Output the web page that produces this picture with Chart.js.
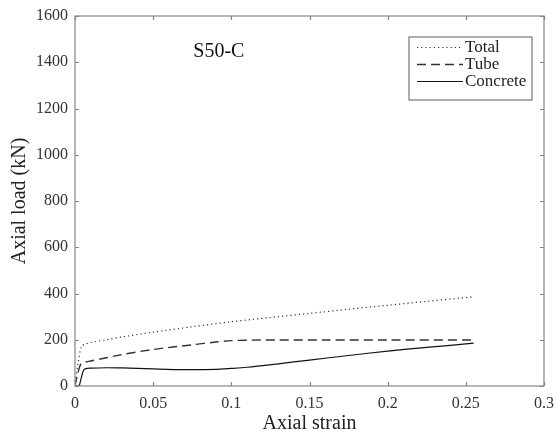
<!DOCTYPE html>
<html>
<head>
<meta charset="utf-8">
<script src="https://cdn.jsdelivr.net/npm/chart.js@4.4.1/dist/chart.umd.min.js"></script>
<style>
  html, body { margin: 0; padding: 0; background: #fff; }
  #wrap { width: 557px; height: 441px; }
</style>
</head>
<body>
<div id="wrap"><canvas id="loadChart" width="557" height="441"></canvas></div>
<script>
// dados (deformação axial x carga axial em kN)
const totalStrain = [0, 0.002, 0.004, 0.006, 0.01, 0.02, 0.03, 0.05, 0.075, 0.1, 0.125, 0.15, 0.175, 0.2, 0.225, 0.255];
const totalLoad   = [0, 100, 170, 180, 188, 200, 212, 233, 256, 278, 296, 314, 332, 349, 366, 386];

const tubeStrain = [0, 0.002, 0.004, 0.007, 0.01, 0.02, 0.03, 0.05, 0.075, 0.09, 0.1, 0.11, 0.13, 0.16, 0.2, 0.255];
const tubeLoad   = [0, 60, 98, 104, 108, 122, 136, 158, 178, 190, 196, 198, 199, 199, 199, 199];

const concreteStrain = [0, 0.0025, 0.004, 0.0055, 0.007, 0.01, 0.02, 0.03, 0.05, 0.07, 0.09, 0.1, 0.11, 0.13, 0.15, 0.175, 0.2, 0.225, 0.255];
const concreteLoad   = [0, 0, 35, 68, 75, 77, 79, 78, 74, 71, 72, 76, 81, 96, 112, 132, 151, 167, 185];

const seriesNames = ["Total", "Tube", "Concrete"];
const xTicks = [0, 0.05, 0.1, 0.15, 0.2, 0.25, 0.3];
const yTicks = [0, 200, 400, 600, 800, 1000, 1200, 1400, 1600];
const panelLabel = "S50-C";

const serif = "'Liberation Serif', 'Times New Roman', serif";
const axisGray = "#858585";

// junta x e y em pontos
function toPoints(xs, ys) {
    return xs.map((x, i) => ({ x: x, y: ys[i] }));
}

// ____________________________________________________________________________

// plugin: caixa em volta, ticks para dentro, legenda e rótulo do painel
const boxPlugin = {
    id: "boxPlugin",
    afterDraw(chart) {
        const ctx = chart.ctx;
        const a = chart.chartArea;
        const sx = chart.scales.x;
        const sy = chart.scales.y;

        ctx.save();
        ctx.strokeStyle = axisGray;
        ctx.lineWidth = 1.2;
        ctx.setLineDash([]);
        ctx.strokeRect(a.left, a.top, a.right - a.left, a.bottom - a.top);

        // ticks internos
        const len = 4;
        ctx.beginPath();
        xTicks.forEach(v => {
            const px = Math.round(sx.getPixelForValue(v)) + 0.5;
            ctx.moveTo(px, a.bottom); ctx.lineTo(px, a.bottom - len);
            ctx.moveTo(px, a.top); ctx.lineTo(px, a.top + len);
        });
        yTicks.forEach(v => {
            const py = Math.round(sy.getPixelForValue(v)) + 0.5;
            ctx.moveTo(a.left, py); ctx.lineTo(a.left + len, py);
            ctx.moveTo(a.right, py); ctx.lineTo(a.right - len, py);
        });
        ctx.stroke();

        // rótulo do painel
        ctx.fillStyle = "#111";
        ctx.font = "20px " + serif;
        ctx.textAlign = "center";
        ctx.textBaseline = "middle";
        ctx.fillText(panelLabel, sx.getPixelForValue(0.092), sy.getPixelForValue(1444));

        // legenda
        const lx = 409, ly = 37, lw = 123, lh = 63;
        ctx.fillStyle = "#fff";
        ctx.fillRect(lx, ly, lw, lh);
        ctx.strokeStyle = "#777";
        ctx.lineWidth = 1.2;
        ctx.strokeRect(lx, ly, lw, lh);
        ctx.font = "17px " + serif;
        ctx.textAlign = "left";
        chart.data.datasets.forEach((ds, i) => {
            const y = ly + 10 + i * 17;
            ctx.strokeStyle = ds.borderColor;
            ctx.lineWidth = ds.borderWidth;
            ctx.setLineDash(ds.borderDash || []);
            ctx.beginPath();
            ctx.moveTo(lx + 8, y + 0.5);
            ctx.lineTo(lx + 54, y + 0.5);
            ctx.stroke();
            ctx.fillStyle = "#222";
            ctx.fillText(ds.label, lx + 56, y + 1);
        });
        ctx.restore();
    }
};

// ____________________________________________________________________________

const loadChart = new Chart(document.getElementById("loadChart").getContext("2d"), {
    type: "scatter",
    data: {
        datasets: [
            {
                label: seriesNames[0],
                data: toPoints(totalStrain, totalLoad),
                borderColor: "#333",
                borderWidth: 1.2,
                borderDash: [1.2, 3],
            },
            {
                label: seriesNames[1],
                data: toPoints(tubeStrain, tubeLoad),
                borderColor: "#333",
                borderWidth: 1.4,
                borderDash: [9, 5],
            },
            {
                label: seriesNames[2],
                data: toPoints(concreteStrain, concreteLoad),
                borderColor: "#111",
                borderWidth: 1.2,
            },
        ].map(ds => Object.assign(ds, { showLine: true, pointRadius: 0, fill: false, tension: 0.3 })),
    },
    options: {
        responsive: false,
        animation: false,
        layout: { padding: { top: 16, right: 13, left: 0, bottom: 0 } },
        plugins: {
            legend: { display: false },
            tooltip: { enabled: false },
        },
        scales: {
            x: {
                type: "linear",
                min: 0,
                max: 0.3,
                afterBuildTicks: s => { s.ticks = xTicks.map(v => ({ value: v })); },
                afterFit: s => { s.height = 55; s.paddingLeft = 0; s.paddingRight = 0; },
                grid: { display: false, drawTicks: false },
                border: { display: false },
                ticks: {
                    padding: 8,
                    color: "#333",
                    font: { family: serif, size: 16 },
                    callback: v => String(+v.toFixed(2)),
                },
                title: {
                    display: true,
                    text: "Axial strain",
                    color: "#222",
                    font: { family: serif, size: 20 },
                    padding: { top: 0, bottom: 5 },
                },
            },
            y: {
                min: 0,
                max: 1600,
                afterBuildTicks: s => { s.ticks = yTicks.map(v => ({ value: v })); },
                afterFit: s => { s.width = 75; s.paddingTop = 0; s.paddingBottom = 0; },
                grid: { display: false, drawTicks: false },
                border: { display: false },
                ticks: {
                    padding: 7,
                    color: "#333",
                    font: { family: serif, size: 16 },
                    callback: v => String(v),
                },
                title: {
                    display: true,
                    text: "Axial load (kN)",
                    color: "#222",
                    font: { family: serif, size: 20 },
                    padding: { top: 8, bottom: 0 },
                },
            },
        },
    },
    plugins: [boxPlugin],
});
</script>
</body>
</html>
